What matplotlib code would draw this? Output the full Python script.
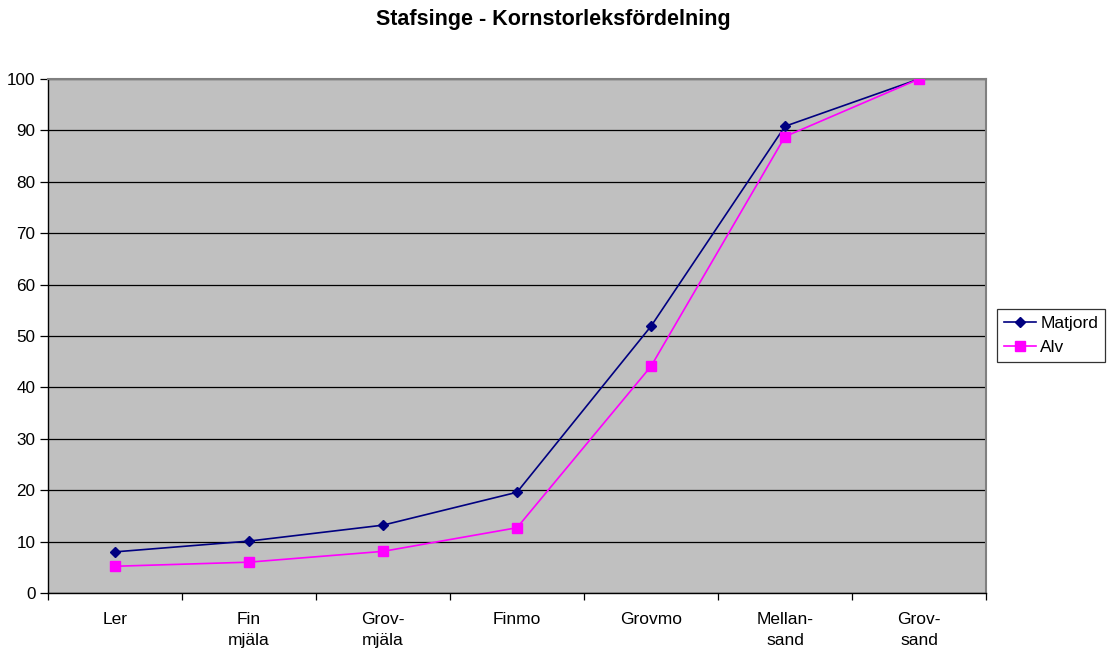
import numpy as np
import matplotlib
matplotlib.use("Agg")
import matplotlib.pyplot as plt

plt.rcParams['font.family'] = ['Liberation Sans', 'DejaVu Sans']

categories = ["Ler", "Fin\nmjäla", "Grov-\nmjäla", "Finmo", "Grovmo", "Mellan-\nsand", "Grov-\nsand"]
matjord = [8.0, 10.1, 13.2, 19.6, 51.9, 90.8, 100.0]
alv = [5.2, 6.0, 8.1, 12.7, 44.1, 88.8, 100.0]
yticks = list(range(0, 101, 10))

W, H = 1107, 653
fig = plt.figure(figsize=(W / 100, H / 100), dpi=100)
ax = fig.add_axes([48 / W, (H - 593) / H, (986 - 48) / W, (593 - 79) / H])
ax.set_facecolor("#C0C0C0")

x = np.arange(len(categories))
ax.plot(x, matjord, color="#000080", lw=1.2, marker="D", ms=5,
        markerfacecolor="#000080", markeredgecolor="#000080", label="Matjord", zorder=3)
ax.plot(x, alv, color="#FF00FF", lw=1.2, marker="s", ms=6.5,
        markerfacecolor="#FF00FF", markeredgecolor="#FF00FF", label="Alv", zorder=3)

ax.set_xlim(-0.5, len(categories) - 0.5)
ax.set_ylim(0, 100)
ax.set_yticks(yticks)
ax.set_yticklabels([str(v) for v in yticks], fontsize=12.3)
ax.yaxis.grid(True, color="black", lw=0.9)
ax.set_axisbelow(True)

# category boundaries get the tick marks, centres get the labels
ax.set_xticks(np.arange(-0.5, len(categories), 1.0))
ax.set_xticklabels([])
ax.set_xticks(x, minor=True)
ax.set_xticklabels(categories, minor=True, fontsize=12.5, ha="center", va="top",
                   linespacing=1.5)
ax.tick_params(axis="x", which="major", length=5, width=0.9, direction="out")
ax.tick_params(axis="x", which="minor", length=0, pad=14)
ax.tick_params(axis="y", length=5.5, width=0.9, direction="out", pad=3.5)

for side in ("left", "bottom"):
    ax.spines[side].set_color("black")
    ax.spines[side].set_linewidth(1.0)
for side in ("top", "right"):
    ax.spines[side].set_color("#808080")
    ax.spines[side].set_linewidth(1.5)

fig.text(0.5, 1 - 19 / H, "Stafsinge - Kornstorleksfördelning", ha="center", va="center",
         fontsize=15.5, fontweight="bold")

leg = fig.legend(loc="center left", bbox_to_anchor=(997 / W, 1 - 335.5 / H), fontsize=12.5,
                 frameon=True, fancybox=False, edgecolor="black", borderpad=0.4,
                 handlelength=1.85, handletextpad=0.25, labelspacing=0.52, borderaxespad=0)
leg.get_frame().set_linewidth(0.9)

fig.savefig("out.png", dpi=100, facecolor="white")
